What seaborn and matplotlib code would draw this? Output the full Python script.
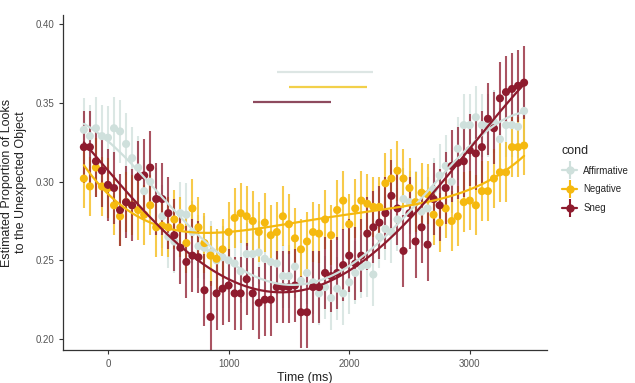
"""
Eye-tracking looks to the unexpected object by condition
"""

import numpy as np
import pandas as pd
import seaborn as sns
import matplotlib
matplotlib.use("Agg")
import matplotlib.pyplot as plt
from matplotlib.lines import Line2D

# time bins (ms)
time_ms = np.arange(-200, 3500, 50)

affirmative = [0.333, 0.329, 0.334, 0.329, 0.328, 0.334, 0.332, 0.324, 0.315, 0.309,
               0.294, 0.300, 0.289, 0.278, 0.265, 0.262, 0.280, 0.279, 0.268, 0.259,
               0.258, 0.255, 0.250, 0.252, 0.250, 0.248, 0.243, 0.254, 0.254, 0.255,
               0.251, 0.249, 0.248, 0.240, 0.240, 0.246, 0.237, 0.242, 0.236, 0.229,
               0.233, 0.226, 0.232, 0.229, 0.236, 0.242, 0.246, 0.247, 0.241, 0.265,
               0.270, 0.268, 0.276, 0.289, 0.287, 0.287, 0.281, 0.283, 0.295, 0.304,
               0.310, 0.300, 0.321, 0.336, 0.336, 0.341, 0.336, 0.336, 0.338, 0.327,
               0.336, 0.336, 0.335, 0.345]

negative = [0.302, 0.297, 0.309, 0.297, 0.296, 0.285, 0.278, 0.287, 0.285, 0.282,
            0.279, 0.285, 0.271, 0.272, 0.271, 0.276, 0.271, 0.261, 0.283, 0.271,
            0.261, 0.253, 0.251, 0.257, 0.268, 0.277, 0.280, 0.278, 0.275, 0.268,
            0.274, 0.266, 0.268, 0.278, 0.273, 0.264, 0.257, 0.262, 0.268, 0.267,
            0.276, 0.266, 0.282, 0.288, 0.273, 0.283, 0.288, 0.286, 0.284, 0.284,
            0.299, 0.302, 0.307, 0.302, 0.296, 0.287, 0.293, 0.292, 0.279, 0.274,
            0.283, 0.275, 0.278, 0.287, 0.288, 0.285, 0.294, 0.294, 0.302, 0.306,
            0.306, 0.322, 0.322, 0.323]

sneg = [0.322, 0.322, 0.313, 0.307, 0.298, 0.296, 0.282, 0.287, 0.285, 0.303,
        0.304, 0.309, 0.289, 0.289, 0.280, 0.266, 0.258, 0.249, 0.253, 0.252,
        0.231, 0.214, 0.229, 0.232, 0.234, 0.229, 0.229, 0.238, 0.229, 0.223,
        0.225, 0.225, 0.233, 0.233, 0.233, 0.234, 0.217, 0.217, 0.233, 0.233,
        0.242, 0.240, 0.242, 0.247, 0.253, 0.248, 0.253, 0.267, 0.271, 0.274,
        0.280, 0.291, 0.283, 0.256, 0.280, 0.262, 0.271, 0.260, 0.289, 0.285,
        0.296, 0.310, 0.312, 0.313, 0.320, 0.318, 0.322, 0.340, 0.334, 0.353,
        0.357, 0.359, 0.361, 0.363]

# half-width of the error bars per condition
half_width = {"Affirmative": 0.020, "Negative": 0.019, "Sneg": 0.023}

conds = ["Affirmative", "Negative", "Sneg"]
palette = {"Affirmative": "#cfe0dc", "Negative": "#f5b90f", "Sneg": "#8e1b2e"}

# significant windows (start, end, y)
sig_start = [1400, 1500, 1200]
sig_end = [2200, 2150, 1850]
sig_y = [0.370, 0.360, 0.3505]
sig_colors = ["#dde6e4", "#f2d04a", "#8e4a5e"]

df = pd.concat([
    pd.DataFrame({"time": time_ms, "prop": vals, "cond": c})
    for c, vals in zip(conds, [affirmative, negative, sneg])
], ignore_index=True)

sns.set_style("white")
plt.rcParams["font.family"] = ["Liberation Sans", "DejaVu Sans"]

fig = plt.figure(figsize=(6.35, 3.83), dpi=100)
ax = fig.add_axes([63 / 635, 1 - 350 / 383, (547 - 63) / 635, (350 - 15) / 383])

# points with error bars
for c in conds:
    sub = df[df["cond"] == c]
    ax.errorbar(sub["time"], sub["prop"], yerr=half_width[c], fmt="none",
                ecolor=palette[c], elinewidth=1.5, alpha=0.75, zorder=2)
    ax.scatter(sub["time"], sub["prop"], s=34, color=palette[c],
               edgecolor="none", zorder=3)

# smooth fits
for c in conds:
    sub = df[df["cond"] == c]
    sns.regplot(data=sub, x="time", y="prop", order=4, scatter=False, ci=None,
                line_kws={"color": palette[c], "lw": 1.6, "zorder": 4}, ax=ax)

# windows of significance
for x0, x1, y, col in zip(sig_start, sig_end, sig_y, sig_colors):
    ax.plot([x0, x1], [y, y], color=col, lw=1.6, solid_capstyle="butt")

ax.set_xlim(-373, 3640)
ax.set_ylim(0.193, 0.406)
ax.set_xticks([0, 1000, 2000, 3000])
ax.set_yticks([0.20, 0.25, 0.30, 0.35, 0.40])
ax.set_yticklabels(["0.20", "0.25", "0.30", "0.35", "0.40"])
ax.set_xlabel("Time (ms)", fontsize=9, color="#222222", labelpad=2)
ax.set_ylabel("Estimated Proportion of Looks\nto the Unexpected Object",
              fontsize=9, color="#222222", labelpad=6)
ax.tick_params(axis="both", colors="#333333", labelcolor="#555555",
               labelsize=7, length=3, width=0.8, left=True, bottom=True)
sns.despine(ax=ax)
for side in ["left", "bottom"]:
    ax.spines[side].set_color("#333333")
    ax.spines[side].set_linewidth(0.9)

handles = [
    (Line2D([], [], color=palette[c], lw=1.6, marker="o", markersize=6,
            markeredgewidth=0),
     Line2D([], [], color=palette[c], ls="", marker="|", markersize=13,
            markeredgewidth=1.5))
    for c in conds
]
leg = fig.legend(handles, conds, title="cond", loc="upper left",
                 bbox_to_anchor=(553 / 635, 1 - 136 / 383), frameon=False,
                 fontsize=7, title_fontsize=9, handlelength=1.6,
                 handletextpad=0.6, labelspacing=0.9, alignment="left")

fig.savefig("out.png", dpi=100)
